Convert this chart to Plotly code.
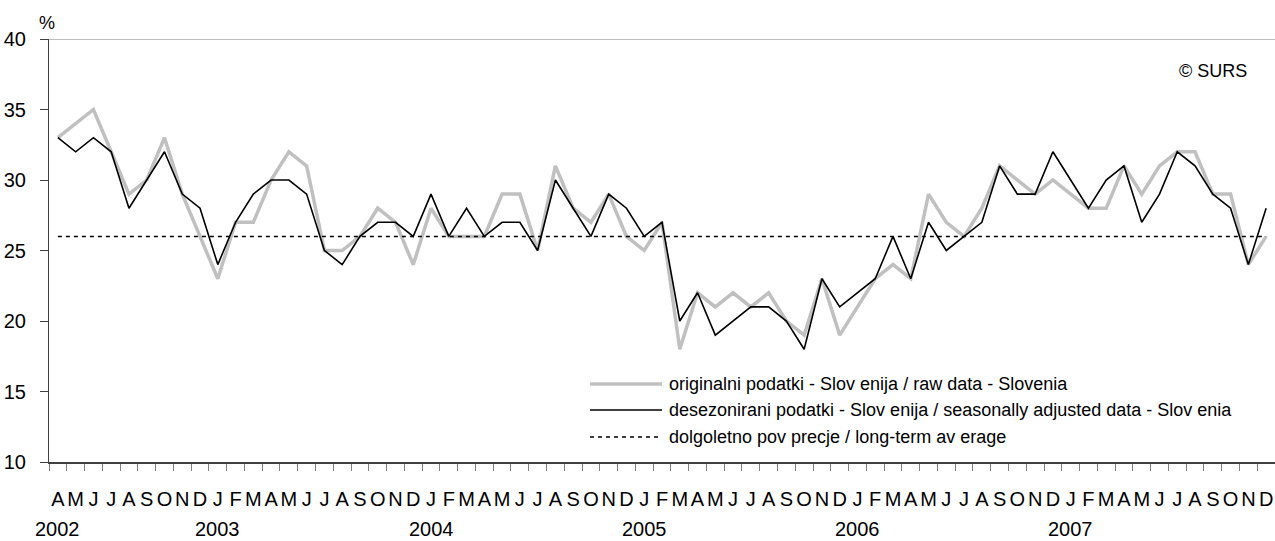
import plotly.graph_objects as go

# ---------------- data ----------------
START_YEAR, START_MONTH = 2002, 4
MONTH_LETTERS = ["J", "F", "M", "A", "M", "J", "J", "A", "S", "O", "N", "D"]
YEAR_LABELS = ["2002", "2003", "2004", "2005", "2006", "2007"]
Y_TICKS = [10, 15, 20, 25, 30, 35, 40]

# originalni podatki / raw data (Apr 2002 - Dec 2007)
RAW_2002 = [33, 34, 35, 32, 29, 30, 33, 29, 26]
RAW_2003 = [23, 27, 27, 30, 32, 31, 25, 25, 26, 28, 27, 24]
RAW_2004 = [28, 26, 26, 26, 29, 29, 25, 31, 28, 27, 29, 26]
RAW_2005 = [25, 27, 18, 22, 21, 22, 21, 22, 20, 19, 23, 19]
RAW_2006 = [21, 23, 24, 23, 29, 27, 26, 28, 31, 30, 29, 30]
RAW_2007 = [29, 28, 28, 31, 29, 31, 32, 32, 29, 29, 24, 26]

# desezonirani podatki / seasonally adjusted data
SA_2002 = [33, 32, 33, 32, 28, 30, 32, 29, 28]
SA_2003 = [24, 27, 29, 30, 30, 29, 25, 24, 26, 27, 27, 26]
SA_2004 = [29, 26, 28, 26, 27, 27, 25, 30, 28, 26, 29, 28]
SA_2005 = [26, 27, 20, 22, 19, 20, 21, 21, 20, 18, 23, 21]
SA_2006 = [22, 23, 26, 23, 27, 25, 26, 27, 31, 29, 29, 32]
SA_2007 = [30, 28, 30, 31, 27, 29, 32, 31, 29, 28, 24, 28]

# dolgoletno povprecje / long-term average
LONG_TERM_AVG = 26

RAW = RAW_2002 + RAW_2003 + RAW_2004 + RAW_2005 + RAW_2006 + RAW_2007
SA = SA_2002 + SA_2003 + SA_2004 + SA_2005 + SA_2006 + SA_2007

LEGEND_TEXTS = [
    "originalni podatki - Slov enija / raw data - Slovenia",
    "desezonirani podatki - Slov enija / seasonally adjusted data - Slov enia",
    "dolgoletno pov precje / long-term av erage",
]

# ---------------- derived categories ----------------
periods, letters, year_first = [], [], {}
for i in range(len(RAW)):
    m0 = START_MONTH - 1 + i
    yr = START_YEAR + m0 // 12
    m = m0 % 12
    p = f"{yr}-{m + 1:02d}"
    periods.append(p)
    letters.append(MONTH_LETTERS[m])
    year_first.setdefault(str(yr), p)

FONT = "Liberation Sans, Arial, sans-serif"
GRAY = "#c0c0c0"

fig = go.Figure()
fig.add_trace(go.Scatter(x=periods, y=RAW, mode="lines",
                         line=dict(color=GRAY, width=3.5), name=LEGEND_TEXTS[0]))
fig.add_trace(go.Scatter(x=periods, y=SA, mode="lines",
                         line=dict(color="#000000", width=1.6), name=LEGEND_TEXTS[1]))
fig.add_trace(go.Scatter(x=periods, y=[LONG_TERM_AVG] * len(periods), mode="lines",
                         line=dict(color="#000000", width=1.5, dash="4px,4px"),
                         name=LEGEND_TEXTS[2]))

# plot area in pixels: x 49..1275, y 39..462
L, R, T, B = 49, 1275, 39, 462
def px(xp):
    return (xp - L) / (R - L)
def py(yp):
    return (B - yp) / (B - T)

shapes = [dict(type="line", xref="paper", yref="y", x0=0, x1=1, y0=40, y1=40,
               line=dict(color="#808080", width=1.2))]
annotations = []

# manual legend (long line samples as in the reference)
rows = [384, 410, 437]
styles = [dict(color=GRAY, width=3.5), dict(color="#000000", width=1.6),
          dict(color="#000000", width=1.5, dash="4px,4px")]
for txt, ry, st in zip(LEGEND_TEXTS, rows, styles):
    shapes.append(dict(type="line", xref="paper", yref="paper",
                       x0=px(590), x1=px(662), y0=py(ry), y1=py(ry), line=st))
    annotations.append(dict(text=txt, xref="paper", yref="paper", x=px(667), y=py(ry),
                            xanchor="left", yanchor="middle", showarrow=False,
                            font=dict(family=FONT, size=18, color="#000000")))

# year labels under January (first month for 2002)
for yl in YEAR_LABELS:
    annotations.append(dict(text=yl, xref="x", yref="paper", x=year_first[yl], y=py(529),
                            xanchor="center", yanchor="middle", showarrow=False,
                            font=dict(family=FONT, size=20, color="#000000")))

annotations.append(dict(text="© SURS", xref="paper", yref="paper", x=px(1249), y=py(71),
                        xanchor="right", yanchor="middle", showarrow=False,
                        font=dict(family=FONT, size=18, color="#000000")))
annotations.append(dict(text="%", xref="paper", yref="paper", x=px(47), y=py(23),
                        xanchor="center", yanchor="middle", showarrow=False,
                        font=dict(family=FONT, size=18, color="#000000")))

fig.update_layout(
    width=1275, height=541,
    margin=dict(l=L, r=1275 - R, t=T, b=541 - B),
    paper_bgcolor="white", plot_bgcolor="white",
    showlegend=False,
    font=dict(family=FONT, size=20, color="#000000"),
    shapes=shapes, annotations=annotations,
    xaxis=dict(type="category", categoryorder="array", categoryarray=periods,
               range=[-0.5, len(periods) - 0.5],
               tickmode="array", tickvals=periods, ticktext=letters,
               tickson="boundaries", ticks="outside", ticklen=7, tickcolor="#808080",
               tickwidth=1, tickangle=0, automargin=False,
               showline=True, linecolor="#404040", linewidth=2,
               showgrid=False, zeroline=False,
               tickfont=dict(family=FONT, size=20, color="#000000"),
               ticklabelstandoff=18),
    yaxis=dict(range=[10, 40], tickmode="array", tickvals=Y_TICKS,
               ticks="outside", ticklen=8, tickcolor="#404040", tickwidth=1,
               showline=True, linecolor="#404040", linewidth=1,
               showgrid=False, zeroline=False, automargin=False,
               tickfont=dict(family=FONT, size=20, color="#000000"),
               ticklabelstandoff=10),
)

fig.write_html("out.html", config={"displayModeBar": False},
               post_script="document.body.style.margin='0';")
